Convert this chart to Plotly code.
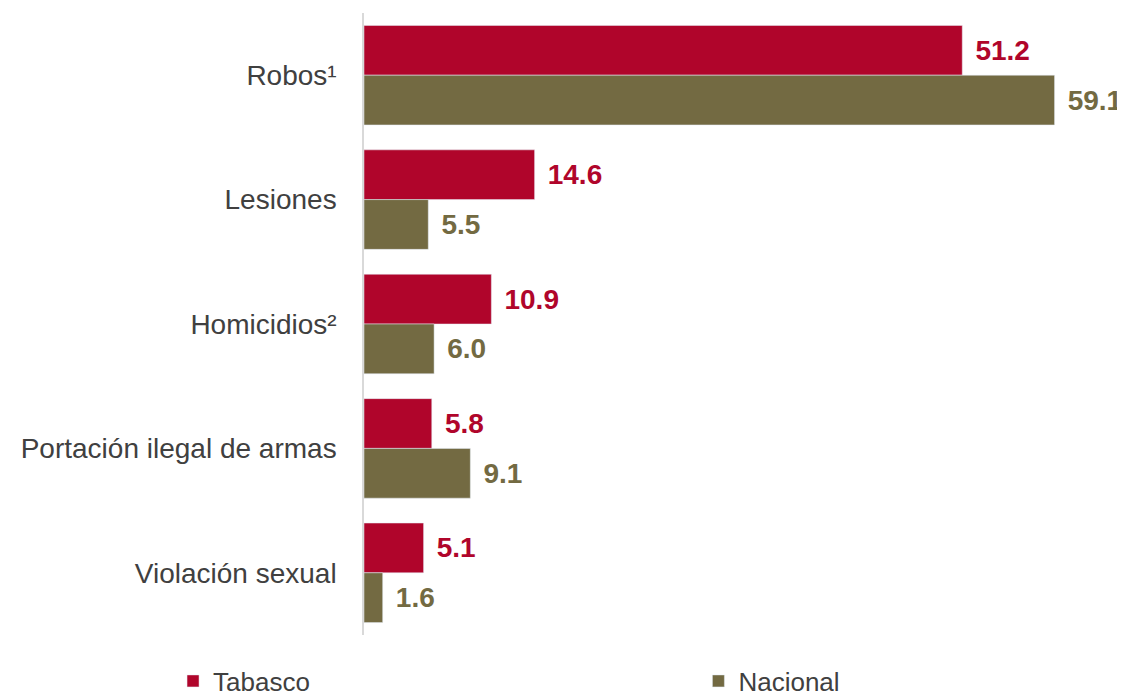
import plotly.graph_objects as go

# Delitos: tasa Tabasco vs nacional
categorias = ["Robos¹", "Lesiones", "Homicidios²", "Portación ilegal de armas", "Violación sexual"]
tabasco = [51.2, 14.6, 10.9, 5.8, 5.1]
nacional = [59.1, 5.5, 6.0, 9.1, 1.6]

rojo = "#B0052B"
oliva = "#736A42"
fuente = "Liberation Sans, Arial"

fig = go.Figure()
fig.add_trace(go.Bar(
    y=categorias, x=tabasco, name="Tabasco", orientation="h",
    marker=dict(color=rojo), legend="legend",
    texttemplate="\u00a0\u200a%{x:.1f}", textposition="outside",
    textfont=dict(color=rojo, size=28, family=fuente, weight="bold"),
    cliponaxis=False,
))
fig.add_trace(go.Bar(
    y=categorias, x=nacional, name="Nacional", orientation="h",
    marker=dict(color=oliva), legend="legend2",
    texttemplate="\u00a0\u200a%{x:.1f}", textposition="outside",
    textfont=dict(color=oliva, size=28, family=fuente, weight="bold"),
    cliponaxis=False,
))

leyenda = dict(
    orientation="h", xref="container", yref="paper",
    y=-0.074, xanchor="left", yanchor="middle",
    font=dict(size=26, color="#404040", family=fuente),
    bgcolor="rgba(0,0,0,0)",
)
fig.update_layout(
    width=1125, height=695,
    barmode="group", bargap=0.2, bargroupgap=0,
    plot_bgcolor="white", paper_bgcolor="white",
    margin=dict(l=356, r=13, t=5, b=68, autoexpand=False),
    font=dict(family=fuente, color="#404040", size=24),
    showlegend=True,
    legend=dict(leyenda, x=0.1467),
    legend2=dict(leyenda, x=0.6137),
    uniformtext=dict(mode=False),
)
fig.update_xaxes(visible=False, range=[0, 64.7])
fig.update_yaxes(
    autorange="reversed", showline=True, linecolor="#D9D9D9", linewidth=1.5,
    showgrid=False, ticks="", ticklabelstandoff=20, automargin=False,
    tickfont=dict(size=28, color="#404040"),
)

fig.write_html("out.html")
